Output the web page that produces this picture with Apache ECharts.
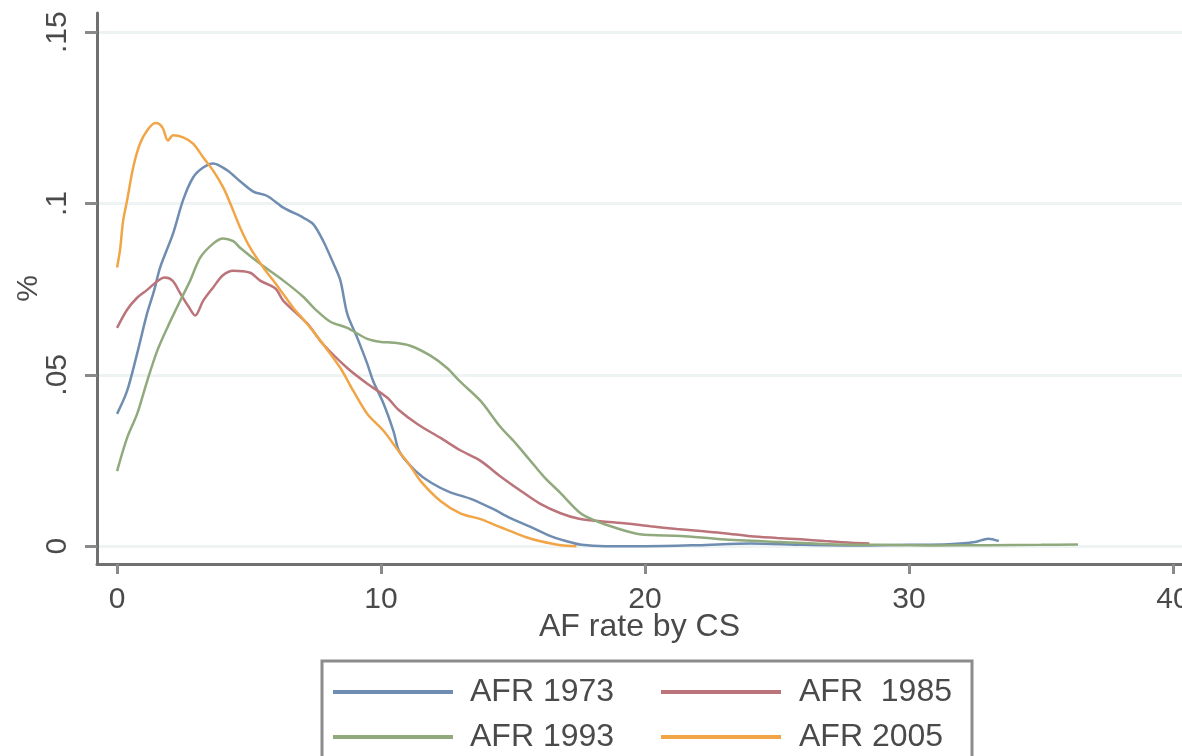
<!DOCTYPE html>
<html>
<head>
<meta charset="utf-8">
<script src="https://cdn.jsdelivr.net/npm/echarts@6/dist/echarts.min.js"></script>
<style>
html,body{margin:0;padding:0;background:#fff;}
#chart{width:1182px;height:756px;}
</style>
</head>
<body>
<div id="chart"></div>
<script>
// ---- data ----
var seriesNames = ['AFR 1973', 'AFR  1985', 'AFR 1993', 'AFR 2005'];
var xTicks = [0, 10, 20, 30, 40];
var yTicks = [0, 0.05, 0.1, 0.15];

var x1973 = [0,0.38,0.76,1.14,1.4,1.63,2.12,2.5,2.88,3.26,3.64,4.17,4.66,5.16,5.69,6.3,7.05,7.43,7.8,8.2,8.46,8.72,9.1,9.48,9.7,10.1,10.47,10.7,11.3,11.9,12.6,13.4,14.2,14.9,15.7,16.4,17.0,17.6,18.5,20,22,24,26,28,30,31.5,32.5,33.0,33.4];
var y1973 = [0.0386,0.0453,0.0562,0.068,0.0745,0.0813,0.0912,0.101,0.1076,0.1105,0.1117,0.1097,0.1065,0.1035,0.1022,0.0988,0.0959,0.094,0.0892,0.0824,0.0775,0.0678,0.0608,0.0532,0.0482,0.0415,0.0336,0.0275,0.022,0.0185,0.0158,0.0138,0.011,0.0082,0.0055,0.003,0.0015,0.0004,0,0,0.0003,0.0008,0.0004,0.0002,0.0004,0.0006,0.0012,0.0022,0.0015];

var x1985 = [0,0.38,0.76,1.14,1.5,1.8,2.1,2.4,2.7,2.96,3.26,3.64,4.0,4.4,5.04,5.42,6.0,6.3,7.2,7.8,8.72,9.48,10.24,10.66,11.4,12.25,13.0,13.77,14.5,15.3,16.0,16.8,17.5,18.3,19.3,20.2,21.2,22.1,23,24,25,25.9,26.8,27.8,28.5];
var y1985 = [0.0637,0.069,0.0725,0.0748,0.0772,0.0784,0.0775,0.0737,0.07,0.0673,0.0716,0.0755,0.079,0.0804,0.0798,0.0775,0.0752,0.0716,0.065,0.059,0.052,0.0474,0.0433,0.0398,0.0355,0.0316,0.028,0.0249,0.0205,0.0161,0.0125,0.0096,0.008,0.0073,0.0066,0.0058,0.005,0.0044,0.0038,0.0029,0.0024,0.002,0.0015,0.001,0.0008];

var x1993 = [0,0.38,0.76,1.14,1.52,1.9,2.39,2.77,3.15,3.64,4.02,4.4,4.66,5.42,6.3,7.05,7.5,8.08,8.72,9.48,10.0,10.47,11.1,11.87,12.5,13.0,13.77,14.5,15.1,15.66,16.2,16.8,17.56,18.2,18.7,19.8,21.35,22.9,25.1,27,29,31,33,35,36.4];
var y1993 = [0.0219,0.0316,0.0386,0.0482,0.057,0.0637,0.0716,0.0775,0.0842,0.0883,0.0898,0.089,0.0871,0.0824,0.0775,0.0728,0.0692,0.0655,0.0637,0.0605,0.0596,0.0594,0.0585,0.0556,0.052,0.048,0.0424,0.035,0.03,0.0249,0.02,0.0155,0.0096,0.0072,0.0058,0.0035,0.003,0.002,0.0012,0.0006,0.0004,0.0002,0.0003,0.0004,0.0005];

var x2005 = [0,0.11,0.23,0.38,0.61,0.87,1.14,1.44,1.6,1.74,1.93,2.12,2.5,2.88,3.26,3.64,4.02,4.29,4.66,5.04,5.54,5.92,6.3,6.67,7.2,7.8,8.46,8.95,9.48,10.1,10.66,11.1,11.5,12.25,13.0,13.77,14.3,14.9,15.5,16.0,16.8,17.4];
var y2005 = [0.0813,0.0863,0.095,0.1009,0.1105,0.1175,0.1213,0.1235,0.1232,0.1219,0.1184,0.1199,0.1193,0.1175,0.1135,0.1096,0.1047,0.1,0.093,0.0871,0.0813,0.0775,0.0735,0.0696,0.0649,0.059,0.052,0.0453,0.0386,0.0336,0.0278,0.0235,0.019,0.0132,0.0096,0.0079,0.0062,0.0044,0.0026,0.0015,0.0003,0];

var colors = ['#6f8db0', '#bb7479', '#91aa7d', '#f2a547'];

function pairs(xs, ys) { return xs.map(function (x, i) { return [x, ys[i]]; }); }
var allData = [pairs(x1973, y1973), pairs(x1985, y1985), pairs(x1993, y1993), pairs(x2005, y2005)];

var FONT = '"Liberation Sans", Arial, sans-serif';
var TXT = '#4a4a4a';

var chart = echarts.init(document.getElementById('chart'), null, {renderer: 'canvas'});

function legendAt(name, left, top, pad) {
  return {
    data: [name], left: left, top: top, orient: 'horizontal',
    icon: 'rect', itemWidth: 120, itemHeight: 4, padding: 0,
    textStyle: {fontSize: 32, fontFamily: FONT, color: TXT, padding: [0, 0, 0, pad]},
    selectedMode: false
  };
}

chart.setOption({
  animation: false,
  backgroundColor: '#ffffff',
  color: colors,
  grid: {left: 97, right: 0, top: 13, bottom: 192, containLabel: false, outerBoundsMode: 'none'},
  xAxis: {
    type: 'value', min: -0.76, max: 40.34,
    name: 'AF rate by CS', nameLocation: 'middle', nameGap: 47, nameMoveOverlap: false,
    nameTextStyle: {fontSize: 32, fontFamily: FONT, color: TXT},
    axisLine: {show: true, onZero: false, lineStyle: {color: '#707070', width: 3}},
    axisTick: {show: true, length: 10, customValues: xTicks, lineStyle: {color: '#8a8a8a', width: 3}},
    axisLabel: {customValues: xTicks, fontSize: 30, fontFamily: FONT, color: TXT, margin: 21},
    splitLine: {show: false}
  },
  yAxis: {
    type: 'value', min: -0.0052, max: 0.1556,
    name: '%', nameLocation: 'middle', nameGap: 53, nameRotate: 90, nameMoveOverlap: false,
    nameTextStyle: {fontSize: 30, fontFamily: FONT, color: TXT},
    axisLine: {show: true, onZero: false, lineStyle: {color: '#707070', width: 3}},
    axisTick: {show: true, length: 12, customValues: yTicks, lineStyle: {color: '#8a8a8a', width: 3}},
    axisLabel: {
      customValues: yTicks, rotate: 90, fontSize: 30, fontFamily: FONT, color: TXT, margin: 24,
      formatter: function (v) { return v === 0 ? '0' : String(v).replace(/^0/, ''); }
    },
    splitLine: {show: true, lineStyle: {color: '#eef4f4', width: 3}}
  },
  legend: [
    legendAt(seriesNames[0], 333, 676, 12),
    legendAt(seriesNames[1], 661, 676, 13),
    legendAt(seriesNames[2], 333, 721, 12),
    legendAt(seriesNames[3], 661, 721, 13)
  ],
  graphic: [{
    type: 'rect', silent: true, z: -1,
    shape: {x: 322, y: 661, width: 650, height: 130},
    style: {fill: '#ffffff', stroke: '#8c8c8c', lineWidth: 3}
  }],
  series: seriesNames.map(function (n, i) {
    return {
      name: n, type: 'line', data: allData[i], smooth: 0.3,
      symbol: 'none', showSymbol: false,
      lineStyle: {width: 2.5, color: colors[i]},
      itemStyle: {color: colors[i]}
    };
  })
});
</script>
</body>
</html>
